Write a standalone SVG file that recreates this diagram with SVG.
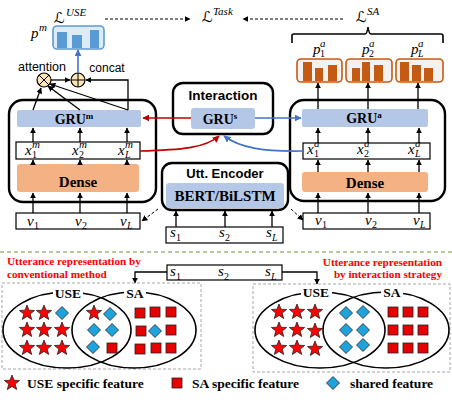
<svg xmlns="http://www.w3.org/2000/svg" width="452" height="400" viewBox="0 0 452 400">
<style>
.outer{fill:#fff;stroke:#000;stroke-width:2.4}
.gru{fill:#b4c7e7}
.dense{fill:#f4b183}
.row{fill:#fff;stroke:#000;stroke-width:1.2}
.bs{font-family:"Liberation Serif",serif;font-weight:bold;text-anchor:middle;fill:#000}
.ss{font-family:"Liberation Sans",sans-serif;fill:#000}
.mi{font-family:"Liberation Serif",serif;font-style:italic;font-size:15px;fill:#000}
.sup{font-family:"Liberation Serif",serif;font-style:italic;font-size:11px;fill:#000}
.sub{font-family:"Liberation Serif",serif;font-size:10px;fill:#000}
.cal{font-family:"DejaVu Serif","DejaVu Sans",serif;font-style:italic;font-size:15px;fill:#000}
.red{font-family:"Liberation Serif",serif;font-weight:bold;font-size:11.2px;fill:#ff0000}
.leg{font-family:"Liberation Serif",serif;font-weight:bold;font-size:13.5px;fill:#000}
.ln{fill:none;stroke:#000;stroke-width:1.3}
.star{fill:#ff0000;stroke:#222;stroke-width:0.8}
.sq{fill:#e60000;stroke:#222;stroke-width:0.8}
.dm{fill:#1fa3dc;stroke:#222;stroke-width:0.8}
.ell{fill:none;stroke:#000;stroke-width:1.6}
</style>
<defs>
<marker id="ab" viewBox="0 0 10 10" refX="9" refY="5" markerWidth="6" markerHeight="6" markerUnits="userSpaceOnUse" orient="auto"><path d="M0,0 L10,5 L0,10 z" fill="#000"/></marker>
<marker id="ar" viewBox="0 0 10 10" refX="9" refY="5" markerWidth="7" markerHeight="7" markerUnits="userSpaceOnUse" orient="auto"><path d="M0,0 L10,5 L0,10 z" fill="#c00000"/></marker>
<marker id="au" viewBox="0 0 10 10" refX="9" refY="5" markerWidth="7" markerHeight="7" markerUnits="userSpaceOnUse" orient="auto"><path d="M0,0 L10,5 L0,10 z" fill="#4472c4"/></marker>
<path id="star" d="M0,-8 L2,-2.8 L7.6,-2.5 L3.2,1.05 L4.7,6.5 L0,3.4 L-4.7,6.5 L-3.2,1.05 L-7.6,-2.5 L-2,-2.8 Z"/>
<rect id="sq" x="-5" y="-5" width="10" height="10"/>
<path id="dm" d="M0,-6.5 L6.5,0 L0,6.5 L-6.5,0 Z"/>
</defs>

<!-- Loss labels -->
<g id="loss-use">
<text class="cal" x="54" y="23">ℒ</text><text class="sup" x="66" y="16" font-size="12px">USE</text>
</g>
<g id="loss-task">
<text class="cal" x="202" y="22">ℒ</text><text class="sup" x="213" y="15" font-size="12px">Task</text>
</g>
<g id="loss-sa">
<text class="cal" x="356" y="22">ℒ</text><text class="sup" x="367" y="15" font-size="12px">SA</text>
</g>

<!-- p^m output -->
<g id="pm">
<text class="mi" x="31" y="38">p</text><text class="sup" x="39" y="31">m</text>
<rect x="53" y="26" width="51" height="23" rx="4" fill="#ddebf7" stroke="#5b9bd5" stroke-width="1.6"/>
<rect x="57" y="32" width="10" height="16" fill="#5b9bd5"/>
<rect x="72" y="35" width="10" height="13" fill="#5b9bd5"/>
<rect x="90" y="30" width="9" height="18" fill="#5b9bd5"/>
</g>

<!-- attention / concat -->
<g id="attention">
<text class="ss" x="42" y="71" font-size="12.5px" text-anchor="middle">attention</text>
<circle cx="44" cy="80" r="7" fill="#fde6b4" stroke="#000" stroke-width="1.2"/>
<path d="M39,75 L49,85 M49,75 L39,85" stroke="#000" stroke-width="1"/>
</g>
<g id="concat">
<text class="ss" x="107" y="72" font-size="12px" text-anchor="middle">concat</text>
<circle cx="78" cy="80" r="7" fill="#fde6b4" stroke="#000" stroke-width="1.2"/>
<path d="M71,80 L85,80 M78,73 L78,87" stroke="#000" stroke-width="1"/>
</g>

<!-- p^a outputs -->
<g id="pa">
<path d="M292,43 L292,35 Q292,34 294,34 L365,34 Q367,34 368,27 Q369,34 371,34 L441,34 Q443,34 443,36 L443,43" fill="none" stroke="#000" stroke-width="1.6"/>
<text class="mi" x="313" y="54">p</text><text class="sup" x="320" y="47">a</text><text class="sub" x="320" y="57">1</text>
<text class="mi" x="362" y="54">p</text><text class="sup" x="369" y="47">a</text><text class="sub" x="369" y="57">2</text>
<text class="mi" x="411" y="54">p</text><text class="sup" x="418" y="47">a</text><text class="sub" x="418" y="57" font-style="italic">L</text>
<rect x="297" y="59" width="45" height="23" rx="4" fill="#f2f2f2" stroke="#c55a11" stroke-width="1.6"/>
<rect x="303" y="62" width="9" height="19" fill="#c55a11"/>
<rect x="315" y="68" width="8" height="13" fill="#c55a11"/>
<rect x="328" y="65" width="9" height="16" fill="#c55a11"/>
<rect x="346" y="59" width="46" height="23" rx="4" fill="#f2f2f2" stroke="#c55a11" stroke-width="1.6"/>
<rect x="352" y="68" width="8" height="13" fill="#c55a11"/>
<rect x="362" y="62" width="8" height="19" fill="#c55a11"/>
<rect x="374" y="65" width="9" height="16" fill="#c55a11"/>
<rect x="396" y="59" width="47" height="23" rx="4" fill="#f2f2f2" stroke="#c55a11" stroke-width="1.6"/>
<rect x="400" y="62" width="9" height="19" fill="#c55a11"/>
<rect x="412" y="65" width="9" height="16" fill="#c55a11"/>
<rect x="424" y="68" width="9" height="13" fill="#c55a11"/>
</g>

<!-- Left module -->
<g id="mod-m">
<rect class="outer" x="9" y="100" width="147" height="102" rx="14"/>
<rect class="gru" x="17" y="110" width="124" height="17" rx="2"/>
<text class="bs" x="74" y="124" font-size="14px">GRU<tspan font-size="9px" dy="-5">m</tspan></text>
<rect class="row" x="16" y="142" width="124" height="17"/>
<text class="mi" x="25" y="155">x</text><text class="sup" x="32" y="148">m</text><text class="sub" x="32" y="158">1</text>
<text class="mi" x="72" y="155">x</text><text class="sup" x="79" y="148">m</text><text class="sub" x="79" y="158">2</text>
<text class="mi" x="118" y="155">x</text><text class="sup" x="125" y="148">m</text><text class="sub" x="125" y="158" font-style="italic">L</text>
<rect class="dense" x="17" y="164" width="122" height="28" rx="3"/>
<text class="bs" x="78" y="187" font-size="15px">Dense</text>
</g>
<g id="v-m">
<rect class="row" x="16" y="213" width="124" height="16"/>
<text class="mi" x="27" y="226">v</text><text class="sub" x="34" y="229">1</text>
<text class="mi" x="75" y="226">v</text><text class="sub" x="82" y="229">2</text>
<text class="mi" x="120" y="226">v</text><text class="sub" x="127" y="229" font-style="italic">L</text>
</g>

<!-- Interaction -->
<g id="interaction">
<rect class="outer" x="173" y="83" width="100" height="51" rx="10"/>
<text class="ss" x="223" y="100" font-size="13.5px" font-weight="bold" text-anchor="middle">Interaction</text>
<rect class="gru" x="191" y="108" width="64" height="21" rx="3"/>
<text class="bs" x="220" y="124" font-size="14px">GRU<tspan font-size="9px" dy="-5">s</tspan></text>
</g>

<!-- Utt encoder -->
<g id="encoder">
<rect class="outer" x="162" y="163" width="126" height="47" rx="10"/>
<text class="ss" x="225" y="178" font-size="13px" font-weight="bold" text-anchor="middle">Utt. Encoder</text>
<rect class="gru" x="166" y="183" width="118" height="25" rx="3"/>
<text class="bs" x="225" y="201" font-size="15px">BERT/BiLSTM</text>
</g>
<g id="s-top">
<rect class="row" x="166" y="227" width="117" height="16"/>
<text class="mi" x="170" y="237">s</text><text class="sub" x="176" y="241">1</text>
<text class="mi" x="219" y="237">s</text><text class="sub" x="225" y="241">2</text>
<text class="mi" x="266" y="237">s</text><text class="sub" x="272" y="241" font-style="italic">L</text>
</g>

<!-- Right module -->
<g id="mod-a">
<rect class="outer" x="290" y="100" width="155" height="101" rx="14"/>
<rect class="gru" x="302" y="109" width="126" height="18" rx="2"/>
<text class="bs" x="364" y="123" font-size="14px">GRU<tspan font-size="9px" dy="-5">a</tspan></text>
<rect class="row" x="303" y="143" width="127" height="16"/>
<text class="mi" x="307" y="154">x</text><text class="sup" x="314" y="147">a</text><text class="sub" x="314" y="157">1</text>
<text class="mi" x="357" y="154">x</text><text class="sup" x="364" y="147">a</text><text class="sub" x="364" y="157">2</text>
<text class="mi" x="408" y="154">x</text><text class="sup" x="415" y="147">a</text><text class="sub" x="415" y="157" font-style="italic">L</text>
<rect class="dense" x="302" y="172" width="126" height="20" rx="3"/>
<text class="bs" x="365" y="188" font-size="15px">Dense</text>
</g>
<g id="v-a">
<rect class="row" x="303" y="213" width="127" height="16"/>
<text class="mi" x="315" y="225">v</text><text class="sub" x="322" y="228">1</text>
<text class="mi" x="365" y="225">v</text><text class="sub" x="372" y="228">2</text>
<text class="mi" x="413" y="225">v</text><text class="sub" x="420" y="228" font-style="italic">L</text>
</g>

<!-- Connectors -->
<g id="connectors">
<path d="M105,19 L190,19" stroke="#000" stroke-width="1" stroke-dasharray="3,2" marker-end="url(#ab)"/>
<path d="M343,19 L243,19" stroke="#000" stroke-width="1" stroke-dasharray="3,2" marker-end="url(#ab)"/>
<path d="M78,73 L78,50" stroke="#4472c4" stroke-width="1.6" marker-end="url(#au)"/>
<path class="ln" d="M51,80 L70,80" marker-end="url(#ab)"/>
<path class="ln" d="M128,110 L128,80 L86,80" marker-end="url(#ab)"/>
<path class="ln" d="M33,110 L41,88" marker-end="url(#ab)"/>
<path class="ln" d="M80,110 L48,86" marker-end="url(#ab)"/>
<path class="ln" d="M128,110 L50,84" marker-end="url(#ab)"/>
<path class="ln" d="M33,142 L33,128" marker-end="url(#ab)"/>
<path class="ln" d="M80,142 L80,128" marker-end="url(#ab)"/>
<path class="ln" d="M127,142 L127,128" marker-end="url(#ab)"/>
<path class="ln" d="M33,164 L33,160" marker-end="url(#ab)"/>
<path class="ln" d="M80,164 L80,160" marker-end="url(#ab)"/>
<path class="ln" d="M127,164 L127,160" marker-end="url(#ab)"/>
<path class="ln" d="M33,213 L33,193" marker-end="url(#ab)"/>
<path class="ln" d="M80,213 L80,193" marker-end="url(#ab)"/>
<path class="ln" d="M127,213 L127,193" marker-end="url(#ab)"/>
<path class="ln" d="M318,109 L318,83" marker-end="url(#ab)"/>
<path class="ln" d="M368,109 L368,83" marker-end="url(#ab)"/>
<path class="ln" d="M418,109 L418,83" marker-end="url(#ab)"/>
<path class="ln" d="M318,143 L318,128" marker-end="url(#ab)"/>
<path class="ln" d="M368,143 L368,128" marker-end="url(#ab)"/>
<path class="ln" d="M419,143 L419,128" marker-end="url(#ab)"/>
<path class="ln" d="M318,172 L318,160" marker-end="url(#ab)"/>
<path class="ln" d="M368,172 L368,160" marker-end="url(#ab)"/>
<path class="ln" d="M419,172 L419,160" marker-end="url(#ab)"/>
<path class="ln" d="M318,213 L318,193" marker-end="url(#ab)"/>
<path class="ln" d="M368,213 L368,193" marker-end="url(#ab)"/>
<path class="ln" d="M419,213 L419,193" marker-end="url(#ab)"/>
<path class="ln" d="M176,227 L176,211" marker-end="url(#ab)"/>
<path class="ln" d="M225,227 L225,211" marker-end="url(#ab)"/>
<path class="ln" d="M272,227 L272,211" marker-end="url(#ab)"/>
<path d="M191,118 L143,118" stroke="#c00000" stroke-width="1.6" fill="none" marker-end="url(#ar)"/>
<path d="M255,118 L301,118" stroke="#4472c4" stroke-width="1.6" fill="none" marker-end="url(#au)"/>
<path d="M140,151 C180,150 206,148 219,136" stroke="#c00000" stroke-width="1.6" fill="none" marker-end="url(#ar)"/>
<path d="M303,151 C265,152 240,148 224,136" stroke="#4472c4" stroke-width="1.6" fill="none" marker-end="url(#au)"/>
<path d="M158,209 L142,221" stroke="#000" stroke-width="1" stroke-dasharray="3,2" fill="none" marker-end="url(#ab)"/>
<path d="M291,209 L303,220" stroke="#000" stroke-width="1" stroke-dasharray="3,2" fill="none" marker-end="url(#ab)"/>
<path class="ln" d="M167,272 L135,272 L135,283" marker-end="url(#ab)"/>
<path class="ln" d="M282,272 L317,272 L317,284" marker-end="url(#ab)"/>
</g>

<!-- separator -->
<path d="M0,252 L452,252" stroke="#6a9a3c" stroke-width="1.2" stroke-dasharray="4,3"/>

<!-- bottom captions -->
<text class="red" x="7" y="265">Utterance representation by</text>
<text class="red" x="7" y="277.5">conventional method</text>
<text class="red" x="442" y="265.5" text-anchor="end">Utterance representation</text>
<text class="red" x="442" y="278" text-anchor="end">by interaction strategy</text>

<g id="s-bottom">
<rect class="row" x="167" y="265" width="115" height="15"/>
<text class="mi" x="170" y="276">s</text><text class="sub" x="176" y="280">1</text>
<text class="mi" x="218" y="276">s</text><text class="sub" x="224" y="280">2</text>
<text class="mi" x="265" y="276">s</text><text class="sub" x="271" y="280" font-style="italic">L</text>
</g>

<!-- left venn -->
<g id="venn-conventional">
<rect x="2" y="283" width="199" height="86" fill="none" stroke="#a6a6a6" stroke-width="1" stroke-dasharray="3,2"/>
<ellipse class="ell" cx="67" cy="330" rx="64" ry="38"/>
<ellipse class="ell" cx="134" cy="330" rx="62" ry="38"/>
<rect x="53" y="286" width="30" height="12" fill="#fff"/>
<rect x="124" y="286" width="22" height="12" fill="#fff"/>
<text class="bs" x="68" y="298" font-size="13.5px">USE</text>
<text class="bs" x="135" y="298" font-size="13.5px">SA</text>
<use href="#star" class="star" x="27" y="313"/><use href="#star" class="star" x="44" y="313"/><use href="#dm" class="dm" x="62" y="313"/>
<use href="#star" class="star" x="27" y="330"/><use href="#star" class="star" x="44" y="330"/><use href="#star" class="star" x="62" y="330"/>
<use href="#star" class="star" x="27" y="348"/><use href="#star" class="star" x="44" y="348"/><use href="#star" class="star" x="62" y="348"/>
<use href="#star" class="star" x="94" y="313"/><use href="#dm" class="dm" x="110" y="314"/>
<use href="#dm" class="dm" x="94" y="330"/><use href="#dm" class="dm" x="112" y="330"/>
<use href="#dm" class="dm" x="93" y="347"/><use href="#sq" class="sq" x="112" y="348"/>
<use href="#sq" class="sq" x="140" y="313"/><use href="#sq" class="sq" x="155" y="312"/><use href="#sq" class="sq" x="171" y="312"/>
<use href="#sq" class="sq" x="141" y="331"/><use href="#dm" class="dm" x="155" y="331"/><use href="#sq" class="sq" x="171" y="330"/>
<use href="#sq" class="sq" x="140" y="349"/><use href="#sq" class="sq" x="156" y="348"/><use href="#sq" class="sq" x="171" y="348"/>
</g>

<!-- right venn -->
<g id="venn-interaction">
<rect x="253" y="284" width="197" height="88" fill="none" stroke="#a6a6a6" stroke-width="1" stroke-dasharray="3,2"/>
<ellipse class="ell" cx="320" cy="330" rx="65" ry="38"/>
<ellipse class="ell" cx="386" cy="330" rx="63" ry="38"/>
<rect x="301" y="286" width="31" height="12" fill="#fff"/>
<rect x="381" y="286" width="22" height="12" fill="#fff"/>
<text class="bs" x="316" y="297" font-size="13.5px">USE</text>
<text class="bs" x="392" y="297" font-size="13.5px">SA</text>
<use href="#star" class="star" x="279" y="312"/><use href="#star" class="star" x="297" y="312"/><use href="#star" class="star" x="315" y="312"/>
<use href="#star" class="star" x="279" y="330"/><use href="#star" class="star" x="297" y="330"/><use href="#star" class="star" x="315" y="331"/>
<use href="#star" class="star" x="279" y="348"/><use href="#star" class="star" x="297" y="348"/><use href="#star" class="star" x="315" y="349"/>
<use href="#dm" class="dm" x="346" y="313"/><use href="#dm" class="dm" x="363" y="312"/>
<use href="#dm" class="dm" x="346" y="330"/><use href="#dm" class="dm" x="363" y="330"/>
<use href="#dm" class="dm" x="346" y="347"/><use href="#dm" class="dm" x="363" y="345"/>
<use href="#sq" class="sq" x="393" y="312"/><use href="#sq" class="sq" x="408" y="312"/><use href="#sq" class="sq" x="423" y="312"/>
<use href="#sq" class="sq" x="393" y="330"/><use href="#sq" class="sq" x="408" y="330"/><use href="#sq" class="sq" x="423" y="330"/>
<use href="#sq" class="sq" x="393" y="348"/><use href="#sq" class="sq" x="408" y="348"/><use href="#sq" class="sq" x="423" y="348"/>
</g>

<!-- legend -->
<g id="legend">
<use href="#star" class="star" x="12" y="383"/>
<text class="leg" x="27" y="388">USE specific feature</text>
<use href="#sq" class="sq" x="177" y="383"/>
<text class="leg" x="192" y="388">SA specific feature</text>
<use href="#dm" class="dm" x="333" y="383"/>
<text class="leg" x="350" y="388">shared feature</text>
</g>
</svg>
